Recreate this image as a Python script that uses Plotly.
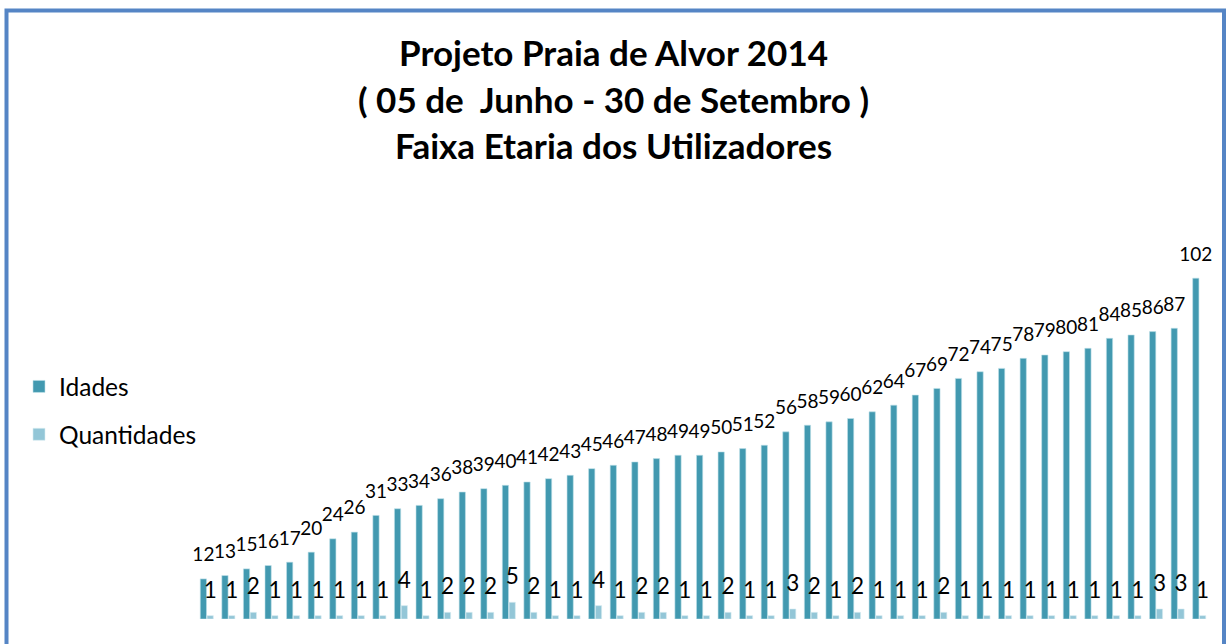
import plotly.graph_objects as go

# ---- data ----
categorias = [str(i) for i in range(1, 48)]
idades = [12, 13, 15, 16, 17, 20, 24, 26, 31, 33, 34, 36, 38, 39, 40, 41, 42, 43,
          45, 46, 47, 48, 49, 49, 50, 51, 52, 56, 58, 59, 60, 62, 64, 67, 69, 72,
          74, 75, 78, 79, 80, 81, 84, 85, 86, 87, 102]
quantidades = [1, 1, 2, 1, 1, 1, 1, 1, 1, 4, 1, 2, 2, 2, 5, 2, 1, 1, 4, 1, 2, 2,
               1, 1, 2, 1, 1, 3, 2, 1, 2, 1, 1, 1, 2, 1, 1, 1, 1, 1, 1, 1, 1, 1,
               3, 3, 1]
titulo = ["Projeto Praia de Alvor 2014",
          "( 05 de  Junho - 30 de Setembro )",
          "Faixa Etaria dos Utilizadores"]

# ---- layout geometry (pixels) ----
W, H = 1226, 644
L, R, T, B = 16, 1210, 218, 619      # plot area (legend lives inside it, left of the bars)
BARS_LEFT = 196                       # where the first category slot starts
pw, ph = R - L, B - T
n = len(categorias)
slot = (R - BARS_LEFT) / n
x_start = -0.5 - (BARS_LEFT - L) / slot
x_end = n - 0.5

def px_x(x):
    return (x - L) / pw

def px_y(y):
    return (B - y) / ph

FONT = "Lato, Calibri, Carlito, sans-serif"
C_ID = "#4299B0"
C_QT = "#93C6D7"
GAP = 0.37

fig = go.Figure()
fig.add_trace(go.Bar(
    x=categorias, y=idades, name="Idades",
    marker=dict(color=C_ID, line=dict(color="#BFE0EA", width=0.6)),
    offsetgroup="a", alignmentgroup="g", hoverinfo="y", legendgroup="a",
))
fig.add_trace(go.Bar(
    x=categorias, y=quantidades, name="Quantidades",
    marker=dict(color=C_QT, line=dict(color="#D8ECF2", width=0.6)),
    offsetgroup="b", alignmentgroup="g", hoverinfo="y", legendgroup="b",
))
# data labels
fig.add_trace(go.Scatter(
    x=categorias, y=idades, mode="markers+text", text=[str(v) for v in idades],
    textposition="top center", cliponaxis=False, showlegend=False,
    marker=dict(size=19, color="rgba(0,0,0,0)"), hoverinfo="skip",
    textfont=dict(family=FONT, size=19, color="black"),
    offsetgroup="a", alignmentgroup="g", legendgroup="a",
))
fig.add_trace(go.Scatter(
    x=categorias, y=quantidades, mode="markers+text", text=[str(v) for v in quantidades],
    textposition="top center", cliponaxis=False, showlegend=False,
    marker=dict(size=18, color="rgba(0,0,0,0)"), hoverinfo="skip",
    textfont=dict(family=FONT, size=22.5, color="black"),
    offsetgroup="b", alignmentgroup="g", legendgroup="b",
))

annotations = []
for line, yc in zip(titulo, [52, 99, 145]):
    annotations.append(dict(
        text=f"<b>{line}</b>", x=px_x(613), y=px_y(yc), xref="paper", yref="paper",
        showarrow=False, xanchor="center", yanchor="middle",
        font=dict(family=FONT, size=35, color="black"),
    ))

fig.update_layout(
    width=W, height=H,
    margin=dict(l=L, r=W - R, t=T, b=H - B, autoexpand=False),
    paper_bgcolor="white", plot_bgcolor="white",
    barmode="group", bargap=GAP, bargroupgap=0.08,
    scattermode="group", scattergap=GAP,
    xaxis=dict(showticklabels=False, showgrid=False, zeroline=False,
               showline=False, ticks="", range=[x_start, x_end]),
    yaxis=dict(range=[0, 120], visible=False),
    legend=dict(xref="paper", yref="paper", x=px_x(19), y=px_y(364),
                xanchor="left", yanchor="top", tracegroupgap=13,
                font=dict(family=FONT, size=24.5, color="black"),
                bgcolor="rgba(0,0,0,0)"),
    annotations=annotations,
    shapes=[dict(type="rect", xref="paper", yref="paper",
                 x0=px_x(6.5), x1=px_x(1224), y0=px_y(670), y1=px_y(10.5),
                 line=dict(color="#5585C5", width=4), fillcolor="rgba(0,0,0,0)",
                 layer="above")],
    showlegend=True,
)

fig.write_html("out.html", config={"displayModeBar": False},
               post_script="document.body.style.margin='0';")
